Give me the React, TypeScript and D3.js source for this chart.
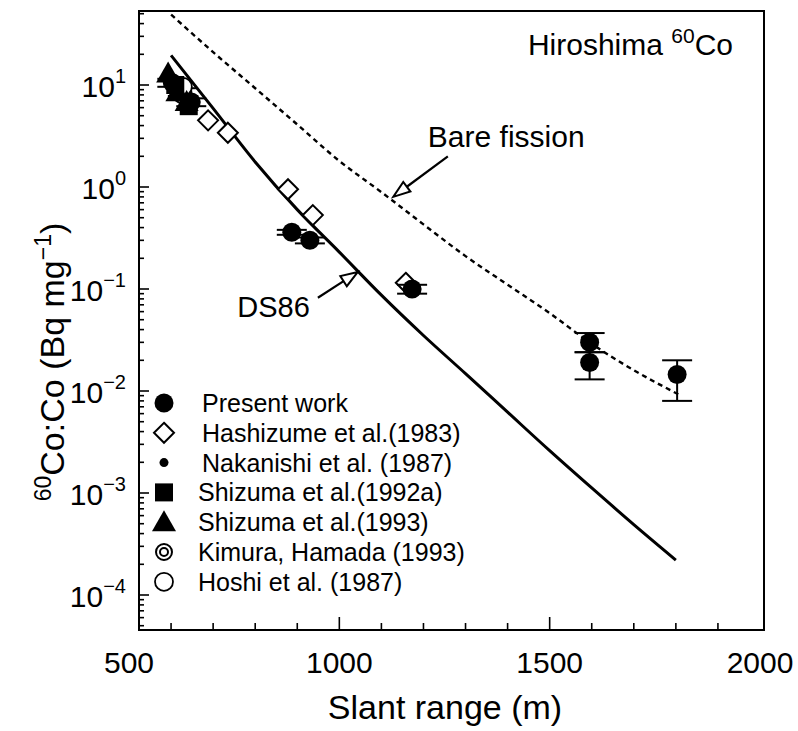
import React, { useEffect, useRef } from "react";
import * as d3 from "d3";

// axis ticks
const xTickValues = [500, 1000, 1500, 2000];
const yExponents = [1, 0, -1, -2, -3, -4];

// calculated curves (slant range m, 60Co:Co Bq/mg)
const ds86Range = [600, 700, 800, 900, 1000, 1100, 1200, 1300, 1400, 1500, 1600, 1700, 1800];
const ds86Value = [19.5, 5.9, 1.76, 0.6, 0.23, 0.087, 0.035, 0.0148, 0.0062, 0.0026, 0.00112, 0.00049, 0.00022];
const bareRange = [600, 700, 800, 900, 1000, 1100, 1200, 1300, 1400, 1500, 1600, 1700, 1810];
const bareValue = [49, 21, 9.3, 4.1, 1.8, 0.89, 0.43, 0.21, 0.11, 0.058, 0.029, 0.016, 0.0091];

// measurements
const presentRange = [603, 628, 648, 887, 930, 1173, 1595, 1595, 1803];
const presentValue = [10.5, 8.5, 6.8, 0.36, 0.3, 0.1, 0.03, 0.019, 0.0145];
const presentLow = [9.6, 7.8, 6.2, 0.34, 0.28, 0.09, 0.024, 0.013, 0.008];
const presentHigh = [11.5, 9.3, 7.4, 0.38, 0.32, 0.11, 0.037, 0.024, 0.02];

const hashizumeRange = [688, 735, 878, 937, 1158];
const hashizumeValue = [4.5, 3.4, 0.95, 0.53, 0.115];
const nakanishiRange = [620];
const nakanishiValue = [9.5];
const shizuma92Range = [610, 642];
const shizuma92Value = [10, 6.2];
const shizuma93Range = [593, 615, 637];
const shizuma93Value = [13, 8.5, 6.8];
const kimuraRange = [625];
const kimuraValue = [8];
const hoshiRange = [628];
const hoshiValue = [9.6];

const legendLabels = [
  "Present work",
  "Hashizume et al.(1983)",
  "Nakanishi et al. (1987)",
  "Shizuma et al.(1992a)",
  "Shizuma et al.(1993)",
  "Kimura, Hamada (1993)",
  "Hoshi et al. (1987)"
];

const FONT = "'Liberation Sans', Arial, sans-serif";

function drawSymbol(g, kind, cx, cy) {
  if (kind === "present") {
    g.append("circle").attr("cx", cx).attr("cy", cy).attr("r", 9.5).attr("fill", "#000");
  } else if (kind === "hashizume") {
    const h = 10;
    g.append("path")
      .attr("d", `M${cx},${cy - h}L${cx + h},${cy}L${cx},${cy + h}L${cx - h},${cy}Z`)
      .attr("fill", "#fff")
      .attr("stroke", "#000")
      .attr("stroke-width", 2);
  } else if (kind === "nakanishi") {
    g.append("circle").attr("cx", cx).attr("cy", cy).attr("r", 4.5).attr("fill", "#000");
  } else if (kind === "shizuma92") {
    g.append("rect").attr("x", cx - 9).attr("y", cy - 9).attr("width", 18).attr("height", 18).attr("fill", "#000");
  } else if (kind === "shizuma93") {
    g.append("path")
      .attr("d", `M${cx},${cy - 12}L${cx + 12},${cy + 9}L${cx - 12},${cy + 9}Z`)
      .attr("fill", "#000");
  } else if (kind === "kimura") {
    g.append("circle").attr("cx", cx).attr("cy", cy).attr("r", 8).attr("fill", "#fff").attr("stroke", "#000").attr("stroke-width", 2);
    g.append("circle").attr("cx", cx).attr("cy", cy).attr("r", 4).attr("fill", "#fff").attr("stroke", "#000").attr("stroke-width", 2);
  } else if (kind === "hoshi") {
    g.append("circle").attr("cx", cx).attr("cy", cy).attr("r", 9).attr("fill", "#fff").attr("stroke", "#000").attr("stroke-width", 1.8);
  }
}

function arrow(g, x1, y1, x2, y2) {
  // open arrow head at (x2, y2)
  const a = Math.atan2(y2 - y1, x2 - x1);
  const len = 17, half = 6;
  const bx = x2 - len * Math.cos(a), by = y2 - len * Math.sin(a);
  g.append("line").attr("x1", x1).attr("y1", y1).attr("x2", bx).attr("y2", by)
    .attr("stroke", "#000").attr("stroke-width", 2.2);
  const p1 = [bx + half * Math.sin(a), by - half * Math.cos(a)];
  const p2 = [bx - half * Math.sin(a), by + half * Math.cos(a)];
  g.append("path")
    .attr("d", `M${x2},${y2}L${p1[0]},${p1[1]}L${p2[0]},${p2[1]}Z`)
    .attr("fill", "#fff").attr("stroke", "#000").attr("stroke-width", 2);
}

export default function App() {
  const ref = useRef(null);

  useEffect(() => {
    const svg = d3.select(ref.current);
    svg.selectAll("*").remove();

    const frame = { left: 139, right: 764, top: 11, bottom: 630 };
    const x = d3.scaleLinear().domain([500, 2000]).range([129, 760]);
    const y = d3.scaleLog().domain([1e-4, 10]).range([595, 85]);

    svg.append("rect").attr("width", 798).attr("height", 731).attr("fill", "#fff");

    // frame
    svg.append("rect")
      .attr("x", frame.left).attr("y", frame.top)
      .attr("width", frame.right - frame.left).attr("height", frame.bottom - frame.top)
      .attr("fill", "none").attr("stroke", "#000").attr("stroke-width", 2);

    // bottom ticks (inward)
    const axes = svg.append("g").attr("stroke", "#000").attr("stroke-width", 1.6);
    d3.range(600, 2000, 100).forEach(v => {
      const major = v % 500 === 0;
      axes.append("line")
        .attr("x1", x(v)).attr("x2", x(v))
        .attr("y1", frame.bottom).attr("y2", frame.bottom - (major ? 13 : 7));
    });
    // left ticks (inward)
    for (let e = -5; e <= 1; e++) {
      for (let m = 1; m <= 9; m++) {
        const v = m * Math.pow(10, e);
        const py = y(v);
        if (py < frame.top + 1 || py > frame.bottom - 1) continue;
        axes.append("line")
          .attr("x1", frame.left).attr("x2", frame.left + (m === 1 ? 10 : 5))
          .attr("y1", py).attr("y2", py);
      }
    }

    // tick labels
    xTickValues.forEach(v => {
      svg.append("text")
        .attr("x", x(v)).attr("y", 673)
        .attr("text-anchor", "middle")
        .attr("font-family", FONT).attr("font-size", 30)
        .text(v);
    });
    yExponents.forEach(e => {
      const t = svg.append("text")
        .attr("x", 126).attr("y", y(Math.pow(10, e)) + 12)
        .attr("text-anchor", "end")
        .attr("font-family", FONT).attr("font-size", 30);
      t.append("tspan").text("10");
      t.append("tspan").attr("dy", -14).attr("font-size", 20)
        .text(e < 0 ? "\u2212" + Math.abs(e) : String(e));
    });

    // axis titles
    svg.append("text")
      .attr("x", 445).attr("y", 719)
      .attr("text-anchor", "middle")
      .attr("font-family", FONT).attr("font-size", 34)
      .text("Slant range (m)");
    const yt = svg.append("text")
      .attr("transform", "translate(64,362) rotate(-90)")
      .attr("text-anchor", "middle")
      .attr("font-family", FONT).attr("font-size", 34);
    yt.append("tspan").attr("font-size", 23).attr("dy", -13).text("60");
    yt.append("tspan").attr("dy", 13).text("Co:Co (Bq mg");
    yt.append("tspan").attr("font-size", 23).attr("dy", -13).text("\u22121");
    yt.append("tspan").attr("dy", 13).text(")");

    // title
    const tt = svg.append("text")
      .attr("x", 733).attr("y", 55)
      .attr("text-anchor", "end")
      .attr("font-family", FONT).attr("font-size", 30);
    tt.append("tspan").text("Hiroshima ");
    tt.append("tspan").attr("dy", -12).attr("font-size", 21).text("60");
    tt.append("tspan").attr("dy", 12).text("Co");

    // curves
    const line = d3.line().x(d => x(d[0])).y(d => y(d[1])).curve(d3.curveMonotoneX);
    svg.append("path")
      .datum(bareRange.map((r, i) => [r, bareValue[i]]))
      .attr("fill", "none").attr("stroke", "#000")
      .attr("stroke-width", 2.4).attr("stroke-dasharray", "5,4")
      .attr("d", line);
    svg.append("path")
      .datum(ds86Range.map((r, i) => [r, ds86Value[i]]))
      .attr("fill", "none").attr("stroke", "#000")
      .attr("stroke-width", 3)
      .attr("d", line);

    // annotations
    const ann = svg.append("g");
    const dsTip = [x(1044), y(0.147)], dsTail = [x(949), y(0.082)];
    arrow(ann, dsTail[0], dsTail[1], dsTip[0], dsTip[1]);
    ann.append("text")
      .attr("x", dsTail[0] - 8).attr("y", dsTail[1] + 19)
      .attr("text-anchor", "end")
      .attr("font-family", FONT).attr("font-size", 29)
      .text("DS86");
    const bTip = [x(1128), y(0.8)], bTail = [x(1258), y(2.0)];
    arrow(ann, bTail[0], bTail[1], bTip[0], bTip[1]);
    ann.append("text")
      .attr("x", bTail[0] - 20).attr("y", bTail[1] - 9)
      .attr("font-family", FONT).attr("font-size", 30)
      .text("Bare fission");

    // points
    const pts = svg.append("g");
    hashizumeRange.forEach((r, i) => drawSymbol(pts, "hashizume", x(r), y(hashizumeValue[i])));
    // present work with error bars
    presentRange.forEach((r, i) => {
      const cx = x(r);
      pts.append("line").attr("x1", cx).attr("x2", cx)
        .attr("y1", y(presentLow[i])).attr("y2", y(presentHigh[i]))
        .attr("stroke", "#000").attr("stroke-width", 2);
      [presentLow[i], presentHigh[i]].forEach(v => {
        pts.append("line").attr("x1", cx - 15).attr("x2", cx + 15)
          .attr("y1", y(v)).attr("y2", y(v))
          .attr("stroke", "#000").attr("stroke-width", 2);
      });
      drawSymbol(pts, "present", cx, y(presentValue[i]));
    });
    const series = [
      ["kimura", kimuraRange, kimuraValue],
      ["hoshi", hoshiRange, hoshiValue],
      ["shizuma93", shizuma93Range, shizuma93Value],
      ["shizuma92", shizuma92Range, shizuma92Value],
      ["nakanishi", nakanishiRange, nakanishiValue]
    ];
    series.forEach(([kind, rs, vs]) => {
      rs.forEach((r, i) => drawSymbol(pts, kind, x(r), y(vs[i])));
    });

    // legend
    const kinds = ["present", "hashizume", "nakanishi", "shizuma92", "shizuma93", "kimura", "hoshi"];
    const lg = svg.append("g");
    kinds.forEach((k, i) => {
      const ly = 403 + i * 29.8;
      drawSymbol(lg, k, 164, ly);
      lg.append("text")
        .attr("x", i < 3 ? 202 : 198).attr("y", ly + 9)
        .attr("font-family", FONT).attr("font-size", 25)
        .text(legendLabels[i]);
    });
  }, []);

  return (
    <div>
      <svg ref={ref} width={798} height={731} style={{ position: "absolute", left: 0, top: 0 }} />
    </div>
  );
}
